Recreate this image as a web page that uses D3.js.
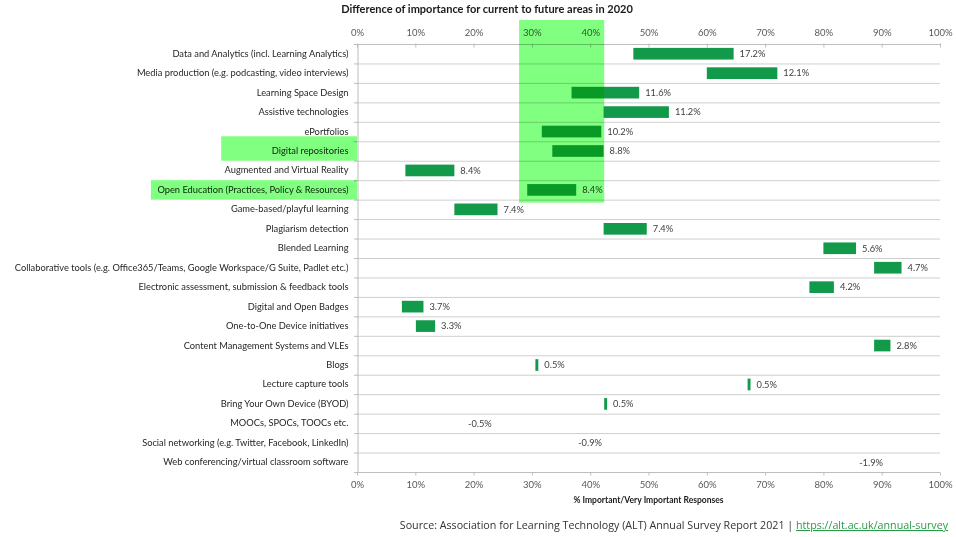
<!DOCTYPE html>
<html>
<head>
<meta charset="utf-8">
<script src="https://cdn.jsdelivr.net/npm/d3@7"></script>
<style>
  body { margin: 0; background: #fff; }
  svg { display: block; font-family: Lato, "Liberation Sans", sans-serif; }
</style>
</head>
<body>
<svg id="chart" width="956" height="537"></svg>
<script>
// areas, top to bottom
const categories = [
  "Data and Analytics (incl. Learning Analytics)",
  "Media production (e.g. podcasting, video interviews)",
  "Learning Space Design",
  "Assistive technologies",
  "ePortfolios",
  "Digital repositories",
  "Augmented and Virtual Reality",
  "Open Education (Practices, Policy & Resources)",
  "Game-based/playful learning",
  "Plagiarism detection",
  "Blended Learning",
  "Collaborative tools (e.g. Office365/Teams, Google Workspace/G Suite, Padlet etc.)",
  "Electronic assessment, submission & feedback tools",
  "Digital and Open Badges",
  "One-to-One Device initiatives",
  "Content Management Systems and VLEs",
  "Blogs",
  "Lecture capture tools",
  "Bring Your Own Device (BYOD)",
  "MOOCs, SPOCs, TOOCs etc.",
  "Social networking (e.g. Twitter, Facebook, LinkedIn)",
  "Web conferencing/virtual classroom software"
]

// % important now (bar start) and change to the future (bar length)
const current = [47.4, 60.0, 36.8, 42.3, 31.7, 33.5, 8.3, 29.2, 16.7, 42.3, 80.0,
                 88.7, 77.6, 7.7, 10.1, 88.7, 30.6, 67.0, 42.4, 18.0, 36.9, 85.1]
const change = [17.2, 12.1, 11.6, 11.2, 10.2, 8.8, 8.4, 8.4, 7.4, 7.4, 5.6,
                4.7, 4.2, 3.7, 3.3, 2.8, 0.5, 0.5, 0.5, -0.5, -0.9, -1.9]

const xTicks = [0, 10, 20, 30, 40, 50, 60, 70, 80, 90, 100]

// highlighted range and areas
const highlightRange = [27.8, 42.4]
const highlighted = ["Digital repositories", "Open Education (Practices, Policy & Resources)"]

const data = categories.map((c, i) => ({cat: c, start: current[i], diff: change[i]}))

const width = 956, height = 537
const margin = {top: 44, right: 16, bottom: 65, left: 357}
const svg = d3.select('#chart')

const x = d3.scaleLinear().domain([0, 100]).range([margin.left, width - margin.right])
const y = d3.scaleBand().domain(categories).range([margin.top, height - margin.bottom])
const barH = y.bandwidth() * 0.6

const gridColor = '#cfcfcf'
const axisColor = '#bdbdbd'
const textColor = '#404040'

// row separators
svg.append('g')
  .selectAll('line')
  .data(categories.slice(1))
  .join('line')
  .attr('x1', x(0)).attr('x2', x(100))
  .attr('y1', d => y(d) + 0.5).attr('y2', d => y(d) + 0.5)
  .attr('stroke', gridColor)

// top and bottom axes
const topAxis = d3.axisTop(x).tickValues(xTicks).tickFormat(d => d + '%').tickSize(3).tickPadding(6)
const bottomAxis = d3.axisBottom(x).tickValues(xTicks).tickFormat(d => d + '%').tickSize(3).tickPadding(6)

svg.append('g')
  .attr('transform', 'translate(0,' + (margin.top + 0.5) + ')')
  .call(topAxis)
  .call(g => g.selectAll('.tick line').attr('y2', 3).attr('y1', -1))

svg.append('g')
  .attr('transform', 'translate(0,' + (height - margin.bottom + 0.5) + ')')
  .call(bottomAxis)

svg.selectAll('.domain').attr('stroke', axisColor).attr('d', null)
svg.selectAll('.tick line').attr('stroke', axisColor)
svg.selectAll('.tick text').attr('fill', '#595959').style('font-size', '9.5px').style('font-family', 'Lato, sans-serif')

// plain horizontal axis lines
svg.append('g').selectAll('line')
  .data([margin.top, height - margin.bottom])
  .join('line')
  .attr('x1', x(0)).attr('x2', x(100))
  .attr('y1', d => d + 0.5).attr('y2', d => d + 0.5)
  .attr('stroke', axisColor)

// left axis
const leftAxis = d3.axisLeft(y).tickSize(0).tickPadding(9)
const gy = svg.append('g')
  .attr('transform', 'translate(' + (x(0) + 0.5) + ',0)')
  .call(leftAxis)
gy.select('.domain').attr('stroke', axisColor)
gy.selectAll('.tick text')
  .attr('fill', '#262626')
  .style('font-size', '9.3px')
  .style('font-family', 'Lato, sans-serif')

// row boundary ticks on the left axis
svg.append('g').selectAll('line')
  .data(categories.concat(['end']))
  .join('line')
  .attr('x1', x(0) - 3).attr('x2', x(0) + 1)
  .attr('y1', (d, i) => margin.top + i * y.step() + 0.5)
  .attr('y2', (d, i) => margin.top + i * y.step() + 0.5)
  .attr('stroke', axisColor)

// floating bars, current -> future (negative changes show no bar)
svg.append('g')
  .selectAll('rect')
  .data(data.filter(d => d.diff > 0))
  .join('rect')
  .attr('x', d => x(d.start))
  .attr('y', d => y(d.cat) + (y.bandwidth() - barH) / 2)
  .attr('width', d => Math.max(2, x(d.start + d.diff) - x(d.start)))
  .attr('height', barH)
  .attr('fill', '#129a4a')

// value labels
svg.append('g')
  .selectAll('text')
  .data(data)
  .join('text')
  .attr('x', d => x(Math.max(d.start, d.start + d.diff)) + 6)
  .attr('y', d => y(d.cat) + y.bandwidth() / 2)
  .attr('dy', '0.35em')
  .attr('fill', textColor)
  .style('font-size', '9.3px')
  .text(d => d.diff.toFixed(1) + '%')

// title
svg.append('text')
  .attr('x', 487).attr('y', 13)
  .attr('text-anchor', 'middle')
  .attr('fill', '#1a1a1a')
  .style('font-size', '11px')
  .style('font-weight', 'bold')
  .text('Difference of importance for current to future areas in 2020')

// x axis title
svg.append('text')
  .attr('x', x(50)).attr('y', 503)
  .attr('text-anchor', 'middle')
  .attr('fill', '#1a1a1a')
  .style('font-size', '8.5px')
  .style('font-weight', 'bold')
  .text('% Important/Very Important Responses')

// highlight overlay
const hl = svg.append('g').style('mix-blend-mode', 'multiply')
const lastHl = d3.max(highlighted, c => y(c))
hl.append('rect')
  .attr('x', x(highlightRange[0]))
  .attr('y', 20)
  .attr('width', x(highlightRange[1]) - x(highlightRange[0]))
  .attr('height', lastHl + y.bandwidth() + 3 - 20)
  .attr('fill', '#80ff80')
  .style('mix-blend-mode', 'multiply')

// boxes behind the highlighted labels (hand drawn in the original, so padding differs)
const boxPad = {"Digital repositories": [50, 5], "Open Education (Practices, Policy & Resources)": [6, 0]}
gy.selectAll('.tick').each(function(c) {
  if (!highlighted.includes(c)) return
  const t = d3.select(this).select('text').node().getBBox()
  const [padX, padTop] = boxPad[c]
  svg.append('rect')
    .attr('x', x(0) + t.x - padX)
    .attr('y', y(c) - padTop)
    .attr('width', -t.x + padX)
    .attr('height', y.bandwidth() + padTop)
    .attr('fill', '#80ff80')
    .style('mix-blend-mode', 'multiply')
})

// source line
const src = svg.append('text')
  .attr('x', 948).attr('y', 529)
  .attr('text-anchor', 'end')
  .attr('fill', '#333')
  .style('font-family', '"Open Sans", sans-serif')
  .style('font-size', '10.7px')
src.append('tspan').text('Source: Association for Learning Technology (ALT) Annual Survey Report 2021 | ')
src.append('tspan')
  .attr('fill', '#2a9a48')
  .style('text-decoration', 'underline')
  .text('https://alt.ac.uk/annual-survey')
</script>
</body>
</html>
